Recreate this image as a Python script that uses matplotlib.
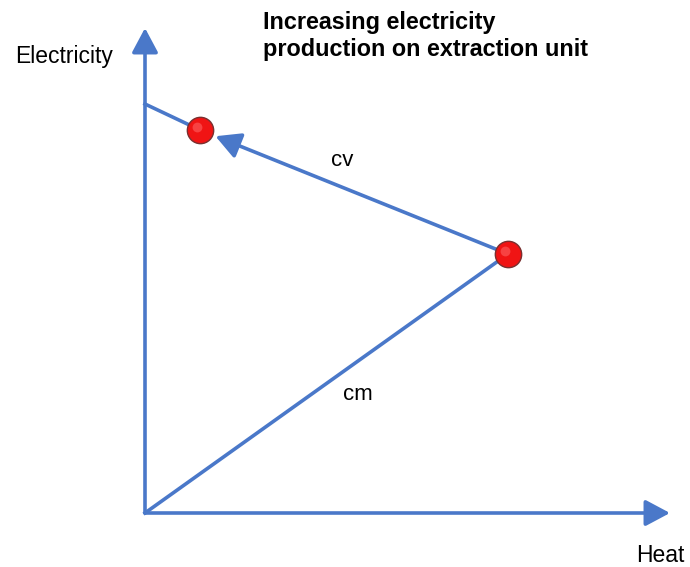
import matplotlib.pyplot as plt

# diagram coordinates (origin at the axes corner)
heat_max, elec_max = 525, 485
cv_start = (0, 409)
cm_start = (0, 0)
p_high = (55, 383)   # increased electricity point
p_low = (363, 259)   # back-pressure point
line_labels = ["cv", "cm"]
label_pos = [(197, 353), (213, 118)]

blue = "#4a78c9"
plt.rcParams["font.family"] = ["Liberation Sans", "DejaVu Sans"]

fig = plt.figure(figsize=(6.9, 5.67), dpi=100)
ax = fig.add_axes([0, 0, 1, 1])
ax.set_xlim(-145, 545)
ax.set_ylim(-54, 513)
ax.axis("off")

# axes arrows
head = "-|>,head_length=1.5,head_width=0.8"
arrow_kw = dict(arrowstyle=head, color=blue, lw=2.6, shrinkA=0, shrinkB=0)
ax.annotate("", xy=(heat_max, 0), xytext=(0, 0), arrowprops=arrow_kw)
ax.annotate("", xy=(0, elec_max), xytext=(0, 0), arrowprops=arrow_kw)

# cm line and cv line
ax.plot([cm_start[0], p_low[0]], [cm_start[1], p_low[1]], color=blue, lw=2.6)
ax.plot([cv_start[0], p_high[0]], [cv_start[1], p_high[1]], color=blue, lw=2.6)
ax.annotate("", xy=p_high, xytext=p_low,
            arrowprops=dict(arrowstyle=head, color=blue, lw=2.6, shrinkA=0, shrinkB=12))

# points
ax.scatter([p_high[0], p_low[0]], [p_high[1], p_low[1]], s=360, color="#f01414",
           edgecolor="#7a3030", linewidth=1.0, zorder=5)
ax.scatter([p_high[0] - 3, p_low[0] - 3], [p_high[1] + 3, p_low[1] + 3], s=50,
           color="#ff7070", alpha=0.5, linewidth=0, zorder=6)

for lab, (x, y) in zip(line_labels, label_pos):
    ax.text(x, y, lab, fontsize=16, ha="center", va="center")

ax.text(-81, 456, "Electricity", fontsize=16.5, ha="center", va="center")
ax.text(515, -42, "Heat", fontsize=16.5, ha="center", va="center")
ax.text(118, 477, "Increasing electricity\nproduction on extraction unit", fontsize=16.8,
        fontweight="bold", ha="left", va="center", linespacing=1.2)

fig.savefig("out.png", dpi=100)
